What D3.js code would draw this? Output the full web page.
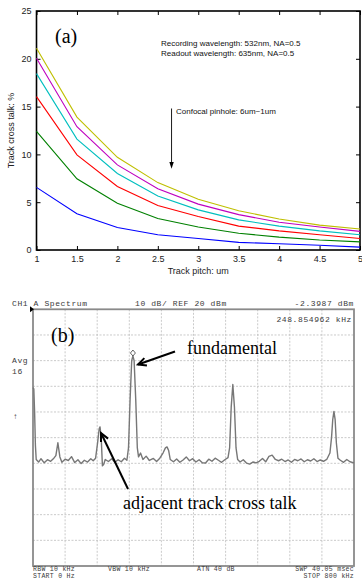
<!DOCTYPE html>
<html>
<head>
<meta charset="utf-8">
<script src="https://cdn.jsdelivr.net/npm/d3@7"></script>
<style>
  body { margin: 0; background: #fff; }
  svg { display: block; }
</style>
</head>
<body>
<svg id="chart" width="362" height="582"></svg>
<script>
// ---- panel (a): track cross talk vs track pitch ----
const pitch = [1, 1.5, 2, 2.5, 3, 3.5, 4, 4.5, 5];
const crossBlue    = [6.55, 3.8, 2.35, 1.6, 1.2, 0.8, 0.65, 0.5, 0.3];
const crossGreen   = [12.4, 7.45, 4.9, 3.3, 2.4, 1.75, 1.35, 1.05, 0.85];
const crossRed     = [16.05, 9.95, 6.65, 4.65, 3.5, 2.5, 2.0, 1.6, 1.2];
const crossCyan    = [18.45, 11.6, 8.0, 5.65, 4.2, 3.15, 2.5, 2.0, 1.6];
const crossMagenta = [20.05, 12.9, 8.9, 6.4, 4.8, 3.7, 2.9, 2.4, 1.95];
const crossYellow  = [21.1, 13.9, 9.7, 7.05, 5.3, 4.1, 3.25, 2.6, 2.2];
const yTicksA = [0, 5, 10, 15, 20, 25];

// ---- panel (b): spectrum analyzer trace ----
const specFreq = [0, 2, 4, 6, 8, 14, 20, 28, 36, 44, 52, 57, 62, 67, 72, 80, 88, 96, 104, 112,
  120, 128, 136, 144, 150, 156, 161, 165, 167, 170, 173, 176, 180, 188, 196, 204, 212, 220, 228, 234,
  238, 242, 246, 249, 252, 256, 260, 263, 268, 274, 282, 290, 300, 308, 316, 324, 330, 334, 338, 342,
  350, 358, 366, 374, 382, 390, 398, 406, 414, 422, 430, 438, 446, 454, 462, 470, 478, 486, 490, 494,
  498, 502, 506, 510, 516, 524, 532, 540, 548, 556, 564, 572, 580, 588, 596, 604, 612, 620, 628, 636,
  644, 652, 660, 668, 676, 684, 692, 700, 708, 716, 724, 732, 740, 744, 747, 750, 753, 756, 760, 766,
  774, 782, 790, 800];
const specLevel = [-10.5, -11, -20, -33, -38.5, -39.5, -38.2, -39.8, -38.6, -39.2, -38.0, -37, -32, -37.5, -39.6, -38.4, -38.9, -37.4, -39.7, -38.6,
  -40.1, -38.8, -39.5, -38.2, -39.0, -38.0, -32, -26.5, -25.8, -30, -41, -40.5, -38.5, -39.3, -38.2, -39.6, -38.6, -39.4, -38.0, -38.8,
  -34, -15, 0, 1.8, 0, -15, -34, -37.5, -36.0, -38.5, -37.2, -38.9, -38.1, -39.3, -38.0, -36.0, -34, -33.6, -35, -38.5,
  -39.4, -38.3, -39.6, -38.7, -37.5, -39.0, -38.2, -39.5, -38.6, -39.8, -39.9, -38.4, -39.2, -38.0, -38.8, -39.6, -38.6, -37.8, -34, -18,
  -9.3, -18, -34, -38.5, -39.5, -38.6, -39.9, -40.3, -39.5, -39.8, -39.2, -38.1, -39.4, -37.3, -36.8, -38.5, -39.0, -38.4, -39.3, -38.7,
  -39.6, -38.5, -39.0, -38.3, -39.4, -38.6, -39.1, -38.2, -39.3, -38.7, -39.2, -38.5, -36, -30, -23, -19.8, -23, -32, -38, -38.8,
  -39.6, -38.5, -39.4, -39.8];

const svg = d3.select('#chart');
const sans = 'Liberation Sans, Arial, sans-serif';
const serif = 'Liberation Serif, Times New Roman, serif';
const mono = 'Liberation Mono, DejaVu Sans Mono, monospace';

// ================= panel (a) =================
const x = d3.scaleLinear().domain([1, 5]).range([36.5, 360]);
const y = d3.scaleLinear().domain([0, 25]).range([250, 11]);

const gA = svg.append('g');

const styleAxis = (g) => {
  g.select('.domain').remove();
  g.selectAll('.tick line').attr('stroke', '#000');
  g.selectAll('.tick text').style('font-family', sans).style('font-size', '9px').attr('fill', '#222');
};

gA.append('g').attr('transform', `translate(0,${y(0)})`)
  .call(d3.axisBottom(x).tickValues(pitch).tickFormat(d3.format('')).tickSize(-4).tickPadding(6))
  .call(styleAxis);
gA.append('g').attr('transform', `translate(${x(1)},0)`)
  .call(d3.axisLeft(y).tickValues(yTicksA).tickSize(-4).tickPadding(5))
  .call(styleAxis);
gA.append('g').attr('transform', `translate(0,${y(25)})`)
  .call(d3.axisTop(x).tickValues(pitch).tickFormat('').tickSize(-4))
  .call(styleAxis);
gA.append('g').attr('transform', `translate(${x(5)},0)`)
  .call(d3.axisRight(y).tickValues(yTicksA).tickFormat('').tickSize(-4))
  .call(styleAxis);

gA.append('rect')
  .attr('x', x(1)).attr('y', y(25))
  .attr('width', x(5) - x(1)).attr('height', y(0) - y(25))
  .attr('fill', 'none').attr('stroke', '#000').attr('stroke-width', 1.6);

const series = [
  {vals: crossBlue, color: '#0000ff'},
  {vals: crossGreen, color: '#008000'},
  {vals: crossRed, color: '#ff0000'},
  {vals: crossCyan, color: '#00bfbf'},
  {vals: crossMagenta, color: '#bf00bf'},
  {vals: crossYellow, color: '#bfbf00'}
];
const line = d3.line().x((d, i) => x(pitch[i])).y(d => y(d));
gA.selectAll('.curve')
  .data(series)
  .join('path')
  .attr('class', 'curve')
  .attr('d', d => line(d.vals))
  .attr('fill', 'none')
  .attr('stroke', d => d.color)
  .attr('stroke-width', 1.1);

gA.append('text').text('Track pitch: um')
  .attr('x', (x(1) + x(5)) / 2).attr('y', 274)
  .attr('text-anchor', 'middle')
  .style('font-family', sans).style('font-size', '9px').attr('fill', '#222');
gA.append('text').text('Track cross talk: %')
  .attr('transform', `translate(14,${(y(0) + y(25)) / 2}) rotate(-90)`)
  .attr('text-anchor', 'middle')
  .style('font-family', sans).style('font-size', '9px').attr('fill', '#222');

gA.append('text').text('(a)')
  .attr('x', 55).attr('y', 43)
  .style('font-family', serif).style('font-size', '20px').attr('fill', '#000');

gA.append('text').text('Recording wavelength: 532nm, NA=0.5')
  .attr('x', 161).attr('y', 46)
  .style('font-family', sans).style('font-size', '8px').attr('fill', '#111');
gA.append('text').text('Readout wavelength: 635nm, NA=0.5')
  .attr('x', 161).attr('y', 56)
  .style('font-family', sans).style('font-size', '8px').attr('fill', '#111');
gA.append('text').text('Confocal pinhole: 6um~1um')
  .attr('x', 176).attr('y', 114)
  .style('font-family', sans).style('font-size', '8px').attr('fill', '#111');

// downward arrow
const ax = x(2.67);
gA.append('line')
  .attr('x1', ax).attr('x2', ax).attr('y1', y(14.8)).attr('y2', y(9.2))
  .attr('stroke', '#000').attr('stroke-width', 0.9);
gA.append('path')
  .attr('d', `M${ax - 2.2},${y(9.2)} L${ax + 2.2},${y(9.2)} L${ax},${y(8.5)} Z`)
  .attr('fill', '#000');

// ================= panel (b) =================
const fx = d3.scaleLinear().domain([0, 800]).range([33, 354]);
const ly = d3.scaleLinear().domain([-80, 20]).range([566, 309.3]);

const gB = svg.append('g');

// grid
gB.append('g').selectAll('line')
  .data(d3.range(1, 10))
  .join('line')
  .attr('x1', d => fx(d * 80)).attr('x2', d => fx(d * 80))
  .attr('y1', ly(20)).attr('y2', ly(-80))
  .attr('stroke', '#bdbdbd').attr('stroke-width', 0.8).attr('stroke-dasharray', '2,1.5');
gB.append('g').selectAll('line')
  .data(d3.range(1, 10))
  .join('line')
  .attr('x1', fx(0)).attr('x2', fx(800))
  .attr('y1', d => ly(20 - d * 10)).attr('y2', d => ly(20 - d * 10))
  .attr('stroke', '#bdbdbd').attr('stroke-width', 0.8).attr('stroke-dasharray', '2,1.5');

gB.append('rect')
  .attr('x', fx(0)).attr('y', ly(20))
  .attr('width', fx(800) - fx(0)).attr('height', ly(-80) - ly(20))
  .attr('fill', 'none').attr('stroke', '#8a8a8a').attr('stroke-width', 1.8);

// reference marker triangle
gB.append('path')
  .attr('d', `M${fx(0) - 3},${ly(20) - 3} L${fx(0) + 1},${ly(20)} L${fx(0) - 3},${ly(20) + 3} Z`)
  .attr('fill', '#000');

// trace
const trace = d3.line()
  .x((d, i) => fx(specFreq[i]))
  .y(d => ly(d));
gB.append('path')
  .attr('d', trace(specLevel))
  .attr('fill', 'none')
  .attr('stroke', '#777')
  .attr('stroke-width', 1.4)
  .attr('stroke-linejoin', 'round');

// marker on fundamental
const mxI = specLevel.indexOf(d3.max(specLevel));
const mx = fx(specFreq[mxI]), my = ly(specLevel[mxI]) - 3;
gB.append('path')
  .attr('d', `M${mx},${my - 3} L${mx + 2.5},${my} L${mx},${my + 3} L${mx - 2.5},${my} Z`)
  .attr('fill', 'none').attr('stroke', '#555').attr('stroke-width', 0.9);

// instrument text
const monoText = (t, xx, yy, anchor, size) => gB.append('text').text(t)
  .attr('x', xx).attr('y', yy)
  .attr('text-anchor', anchor || 'start')
  .style('font-family', mono).style('font-size', (size || 8) + 'px')
  .style('letter-spacing', size ? '0.3px' : '0.6px')
  .attr('fill', '#3a3a3a');

monoText('CH1 A  Spectrum', 12, 306);
monoText('10 dB/ REF 20 dBm', 135, 306);
monoText('-2.3987 dBm', 354, 306, 'end');
monoText('248.854962 kHz', 352, 322, 'end');
monoText('Avg', 12, 363);
monoText('16', 12, 374);
monoText('\u2191', 13, 419);
monoText('RBW  10 kHz', 33, 571, 'start', 6.5);
monoText('START  0 Hz', 33, 578, 'start', 6.5);
monoText('VBW  10 kHz', 108, 571, 'start', 6.5);
monoText('ATN  40 dB', 197, 571, 'start', 6.5);
monoText('SWP  40.05 msec', 354, 571, 'end', 6.5);
monoText('STOP  800 kHz', 354, 578, 'end', 6.5);

// annotations
gB.append('text').text('(b)')
  .attr('x', 51).attr('y', 342)
  .style('font-family', serif).style('font-size', '20px').attr('fill', '#000');
gB.append('text').text('fundamental')
  .attr('x', 187).attr('y', 354)
  .style('font-family', serif).style('font-size', '18px').attr('fill', '#000');
gB.append('text').text('adjacent track cross talk')
  .attr('x', 123).attr('y', 509)
  .style('font-family', serif).style('font-size', '18px').attr('fill', '#000');

const arrow = (x1, y1, x2, y2) => {
  const ang = Math.atan2(y2 - y1, x2 - x1), h = 9, w = 0.45;
  gB.append('line').attr('x1', x1).attr('y1', y1).attr('x2', x2).attr('y2', y2)
    .attr('stroke', '#000').attr('stroke-width', 2);
  gB.append('path')
    .attr('d', `M${x2 - h * Math.cos(ang - w)},${y2 - h * Math.sin(ang - w)} L${x2},${y2} L${x2 - h * Math.cos(ang + w)},${y2 - h * Math.sin(ang + w)}`)
    .attr('fill', 'none').attr('stroke', '#000').attr('stroke-width', 2);
};
arrow(175, 351.5, 138, 364.5);
arrow(128, 489, 101, 433);
</script>
</body>
</html>
